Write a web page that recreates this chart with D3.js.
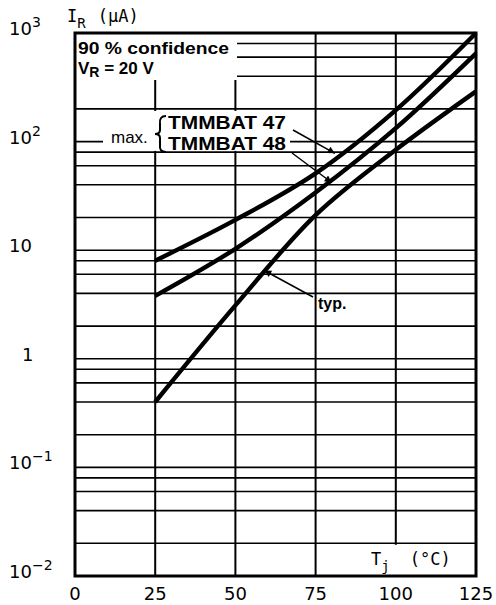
<!DOCTYPE html>
<html lang="en">
<head>
  <meta charset="UTF-8">
  <title>Reverse current vs junction temperature</title>
  <style>
    body {
      margin: 0;
      padding: 0;
      background-color: #fff;
    }
    svg text {
      fill: #000;
    }
    .tick-label {
      font-family: "DejaVu Sans", sans-serif;
      font-size: 18px;
    }
    .mono {
      font-family: "DejaVu Sans Mono", monospace;
      font-size: 17px;
    }
    .note {
      font-family: "Liberation Sans", Arial, sans-serif;
      font-weight: bold;
      font-size: 17px;
    }
  </style>
</head>
<body>
  <svg id="chart"></svg>

  <script src="https://d3js.org/d3.v7.min.js"></script>
  <script>
    const width = 496;
    const height = 605;

    // data
    const temps = [25, 50, 75, 100, 125];
    const maxTmmbat47 = [8, 19, 51, 195, 1000];
    const maxTmmbat48 = [3.8, 10.3, 34, 133, 650];
    const typical = [0.4, 3.1, 21, 84, 290];

    const xTicks = [0, 25, 50, 75, 100, 125];
    const yTicks = [1e-2, 1e-1, 1, 10, 1e2, 1e3];
    const yTickBase = ["10", "10", "1", "10", "10", "10"];
    const yTickExp = ["\u22122", "\u22121", "", "", "2", "3"];
    const gridMantissas = [1, 2, 4, 6, 8];

    const margin = { top: 33, right: 20, bottom: 29, left: 75 };

    const svg = d3.select("#chart")
      .attr("width", width)
      .attr("height", height);

    const x = d3.scaleLinear()
      .domain([0, 125])
      .range([margin.left, width - margin.right]);

    const y = d3.scaleLog()
      .domain([1e-2, 1e3])
      .range([height - margin.bottom, margin.top]);

    const plotLeft = x(0), plotRight = x(125), plotTop = y(1e3), plotBottom = y(1e-2);

    svg.append("defs").append("marker")
      .attr("id", "arrow")
      .attr("viewBox", "0 0 10 10")
      .attr("refX", 10)
      .attr("refY", 5)
      .attr("markerUnits", "userSpaceOnUse")
      .attr("markerWidth", 10)
      .attr("markerHeight", 7)
      .attr("orient", "auto")
      .append("path")
      .attr("d", "M0,0L10,5L0,10Z")
      .attr("fill", "#000");

    // horizontal grid: 1, 2, 4, 6, 8 per decade
    const gridValues = [];
    for (let e = -2; e < 3; e++) {
      gridMantissas.forEach(m => gridValues.push(m * Math.pow(10, e)));
    }
    gridValues.push(1e3);

    svg.append("g")
      .selectAll("line")
      .data(gridValues)
      .enter()
      .append("line")
      .attr("x1", plotLeft)
      .attr("x2", plotRight)
      .attr("y1", d => y(d))
      .attr("y2", d => y(d))
      .attr("stroke", "#000")
      .attr("stroke-width", 1.6);

    svg.append("g")
      .selectAll("line")
      .data(xTicks.slice(1, -1))
      .enter()
      .append("line")
      .attr("x1", d => x(d))
      .attr("x2", d => x(d))
      .attr("y1", plotTop)
      .attr("y2", plotBottom)
      .attr("stroke", "#000")
      .attr("stroke-width", 2);

    // white boxes behind the labels inside the plot
    svg.append("rect")
      .attr("x", plotLeft).attr("y", plotTop)
      .attr("width", 162).attr("height", 47)
      .attr("fill", "#fff");
    svg.append("rect")
      .attr("x", plotLeft + 28).attr("y", y(200) + 2)
      .attr("width", 187).attr("height", 40)
      .attr("fill", "#fff");
    svg.append("rect")
      .attr("x", x(100) - 66).attr("y", y(0.02) + 1.5)
      .attr("width", plotRight - x(100) + 66).attr("height", plotBottom - y(0.02) - 1.5)
      .attr("fill", "#fff");

    // curves
    const line = d3.line()
      .x((d, i) => x(temps[i]))
      .y(d => y(d))
      .curve(d3.curveCatmullRom.alpha(0.5));

    [maxTmmbat47, maxTmmbat48, typical].forEach(series => {
      svg.append("path")
        .attr("d", line(series))
        .attr("fill", "none")
        .attr("stroke", "#000")
        .attr("stroke-width", 4.4);
    });

    // frame
    svg.append("rect")
      .attr("x", plotLeft).attr("y", plotTop)
      .attr("width", plotRight - plotLeft).attr("height", plotBottom - plotTop)
      .attr("fill", "none")
      .attr("stroke", "#000")
      .attr("stroke-width", 3);

    // tick labels
    svg.append("g")
      .selectAll("text")
      .data(xTicks)
      .enter()
      .append("text")
      .attr("class", "tick-label")
      .attr("x", d => x(d))
      .attr("y", plotBottom + 24)
      .attr("text-anchor", "middle")
      .text(d => d);

    const yLabels = svg.append("g")
      .selectAll("text")
      .data(yTicks)
      .enter()
      .append("text")
      .attr("class", "tick-label")
      .attr("x", (d, i) => yTickBase[i] === "1" ? 22 : 9)
      .attr("y", d => y(d) + 2);
    yLabels.append("tspan").text((d, i) => yTickBase[i]);
    yLabels.append("tspan")
      .attr("dy", -8)
      .attr("font-size", 14)
      .text((d, i) => yTickExp[i]);

    // axis titles
    const yTitle = svg.append("text").attr("class", "mono").attr("x", 67).attr("y", 22);
    yTitle.append("tspan").text("I");
    yTitle.append("tspan").attr("dy", 6).attr("font-size", 14).text("R");
    yTitle.append("tspan").attr("dy", -6).attr("dx", 12).text("(\u00b5A)");

    const xTitle = svg.append("text").attr("class", "mono").attr("x", 371).attr("y", 565);
    xTitle.append("tspan").text("T");
    xTitle.append("tspan").attr("dy", 6).attr("font-size", 14).text("j");
    xTitle.append("tspan").attr("dy", -6).attr("dx", 20).text("(\u00b0C)");

    // annotations
    svg.append("text").attr("class", "note").attr("x", 78).attr("y", 54)
      .attr("textLength", 151).attr("lengthAdjust", "spacingAndGlyphs")
      .text("90 % confidence");
    const vr = svg.append("text").attr("class", "note").attr("x", 78).attr("y", 74);
    vr.append("tspan").text("V");
    vr.append("tspan").attr("dy", 3).attr("font-size", 14).text("R");
    vr.append("tspan").attr("dy", -3).text(" = 20 V");

    svg.append("text")
      .attr("x", 111).attr("y", 143)
      .style("font-family", "'Liberation Sans', Arial, sans-serif")
      .style("font-size", "17px")
      .text("max.");

    svg.append("path")
      .attr("d", "M166,116 Q159,116 160,124 L160,130 Q160,134 155,134 Q160,134 160,138 L160,145 Q159,152 166,152")
      .attr("fill", "none")
      .attr("stroke", "#000")
      .attr("stroke-width", 2);

    svg.append("text").attr("class", "note").attr("x", 168).attr("y", 129)
      .style("font-size", "18px")
      .attr("textLength", 118).attr("lengthAdjust", "spacingAndGlyphs")
      .text("TMMBAT 47");
    svg.append("text").attr("class", "note").attr("x", 168).attr("y", 150)
      .style("font-size", "18px")
      .attr("textLength", 118).attr("lengthAdjust", "spacingAndGlyphs")
      .text("TMMBAT 48");
    svg.append("text").attr("class", "note").attr("x", 318).attr("y", 309)
      .style("font-size", "16px").text("typ.");

    const arrows = [
      { from: [293, 130], tip: { t: 81, v: 78 } },
      { from: [292, 153], tip: { t: 80, v: 42 } },
      { from: [313, 297], tip: { t: 59, v: 6.5 } }
    ];
    svg.append("g")
      .selectAll("line")
      .data(arrows)
      .enter()
      .append("line")
      .attr("x1", d => d.from[0])
      .attr("y1", d => d.from[1])
      .attr("x2", d => x(d.tip.t))
      .attr("y2", d => y(d.tip.v))
      .attr("stroke", "#000")
      .attr("stroke-width", 1.5)
      .attr("marker-end", "url(#arrow)");
  </script>
</body>
</html>
